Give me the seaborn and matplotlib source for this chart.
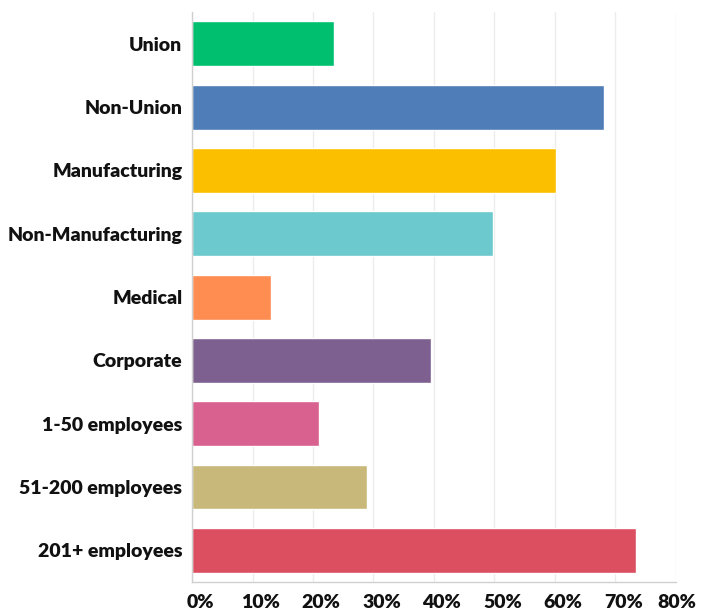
import matplotlib
matplotlib.use('Agg')
import matplotlib.pyplot as plt
import matplotlib.transforms as mtransforms
import seaborn as sns
import pandas as pd
from matplotlib.ticker import PercentFormatter

categories = ['Union', 'Non-Union', 'Manufacturing', 'Non-Manufacturing', 'Medical',
              'Corporate', '1-50 employees', '51-200 employees', '201+ employees']
values = [23.5, 68.2, 60.2, 49.8, 13.0, 39.5, 21.0, 29.0, 73.5]
colors = ['#00C06F', '#4F7DB8', '#FBBF00', '#6CC9CD', '#FF8C50',
          '#7E6090', '#D86190', '#C8B97A', '#DC4F61']

df = pd.DataFrame({'category': categories, 'value': values})

sns.set_style('white')
plt.rcParams['font.family'] = ['Lato', 'DejaVu Sans']

fig = plt.figure(figsize=(7.01, 6.11), dpi=100)
ax = fig.add_axes([0.274, 0.0475, 0.690, 0.9325])

sns.barplot(data=df, x='value', y='category', hue='category', palette=colors,
            legend=False, width=0.71, saturation=1, orient='h', ax=ax)

ax.set_xlim(0, 80)
ax.set_ylim(8.5, -0.5)
ax.set_xticks(range(0, 81, 10))
ax.xaxis.set_major_formatter(PercentFormatter(decimals=0))
ax.grid(axis='x', color='#ececec', linewidth=1)
ax.set_axisbelow(True)
ax.set_xlabel('')
ax.set_ylabel('')

for s in ['top', 'right']:
    ax.spines[s].set_visible(False)
for s in ['left', 'bottom']:
    ax.spines[s].set_color('#d0d0d0')
    ax.spines[s].set_linewidth(1)

ax.tick_params(axis='y', length=0, pad=7)
ax.tick_params(axis='x', length=0, pad=9)
for lab in ax.get_yticklabels() + ax.get_xticklabels():
    lab.set_fontweight('heavy')
    lab.set_fontsize(14)
    lab.set_color('#111111')

# excel-style x labels sit a bit right of the gridlines (last one less, it hits the edge)
xlabs = ax.get_xticklabels()
for i, lab in enumerate(xlabs):
    px = 8 if i < len(xlabs) - 1 else 1
    shift = mtransforms.ScaledTranslation(px / 100, 0, fig.dpi_scale_trans)
    lab.set_transform(lab.get_transform() + shift)

fig.savefig('out.png', dpi=100)
